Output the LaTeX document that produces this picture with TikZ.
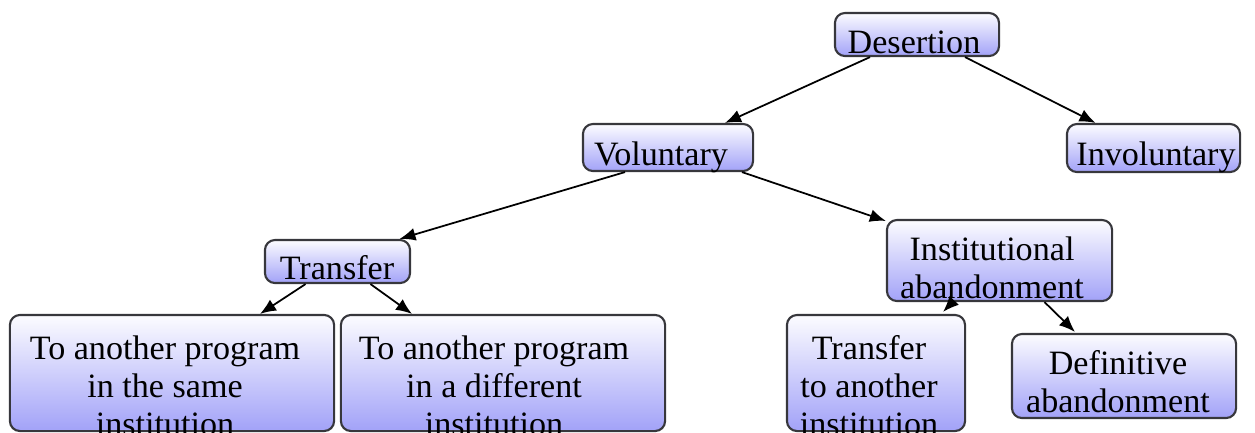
\documentclass[tikz,border=0pt]{standalone}
\usepackage{fontspec}
\setmainfont{Liberation Serif}
\usetikzlibrary{arrows.meta,calc}
\definecolor{boxedge}{RGB}{55,55,60}
\definecolor{boxtop}{RGB}{252,252,255}
\definecolor{boxbot}{RGB}{162,162,248}
\tikzset{
  box/.style={draw=boxedge, line width=0.6pt, rounded corners=0.1cm,
    top color=boxtop, bottom color=boxbot, inner sep=0pt},
  lbl/.style={inner sep=0pt, align=center, anchor=base,
    font=\fontsize{9.7pt}{10.8pt}\selectfont},
  conn/.style={line width=0.5pt, -{Latex[length=1.6mm,width=1.3mm]}}
}
\begin{document}
\begin{tikzpicture}[x=0.01cm,y=-0.01cm]
\useasboundingbox (0,0) rectangle (1255,432);
\clip (0,0) rectangle (1255,432);
% boxes
\node[box, minimum width=1.64cm, minimum height=0.43cm] (des) at (917,34.5) {};
\node[box, minimum width=1.70cm, minimum height=0.47cm] (vol) at (668,147.5) {};
\node[box, minimum width=1.73cm, minimum height=0.48cm] (invol) at (1153.5,148) {};
\node[box, minimum width=1.45cm, minimum height=0.43cm] (tra) at (337.5,261.5) {};
\node[box, minimum width=2.25cm, minimum height=0.81cm] (inst) at (999.5,260.5) {};
\node[box, minimum width=3.24cm, minimum height=1.16cm] (same) at (172,373) {};
\node[box, minimum width=3.24cm, minimum height=1.16cm] (diff) at (503,373) {};
\node[box, minimum width=1.78cm, minimum height=1.16cm] (tinst) at (876,373) {};
\node[box, minimum width=2.24cm, minimum height=0.84cm] (defin) at (1124,376) {};
% labels (base anchor = baseline of the last line)
\node[lbl] (desT) at (914,53) {Desertion};
\node[lbl] (volT) at (661,165) {Voluntary};
\node[lbl] (involT) at (1156,165) {Involuntary};
\node[lbl] (traT) at (337,279) {Transfer};
\node[lbl] (instT) at (992,298) {Institutional\\abandonment};
\node[lbl] (sameT) at (165,435) {To another program\\in the same\\institution};
\node[lbl] (diffT) at (494,435) {To another program\\in a different\\institution};
\node[lbl] (tinstT) at (869,435) {Transfer\\to another\\institution};
\node[lbl] (definT) at (1118,412) {Definitive\\abandonment};
% connectors
\draw[conn] ($(des.south)+(-47,0)$) -- ($(vol.north)+(57,0)$);
\draw[conn] ($(des.south)+(48,0)$) -- ($(invol.north)+(-58,0)$);
\draw[conn] ($(vol.south)+(-43,0)$) -- ($(tra.north)+(62,0)$);
\draw[conn] ($(vol.south)+(74,0)$) -- ($(inst.north west)+(0,2)$);
\draw[conn] ($(tra.south)+(-32,0)$) -- ($(same.north)+(88,0)$);
\draw[conn] ($(tra.south)+(33,0)$) -- ($(diff.north)+(-91,0)$);
\draw[conn] ($(inst.south)+(-47,0)$) -- ($(tinst.north)+(67,-2)$);
\draw[conn] ($(inst.south)+(45,0)$) -- ($(defin.north)+(-49,-1)$);
\end{tikzpicture}
\end{document}
